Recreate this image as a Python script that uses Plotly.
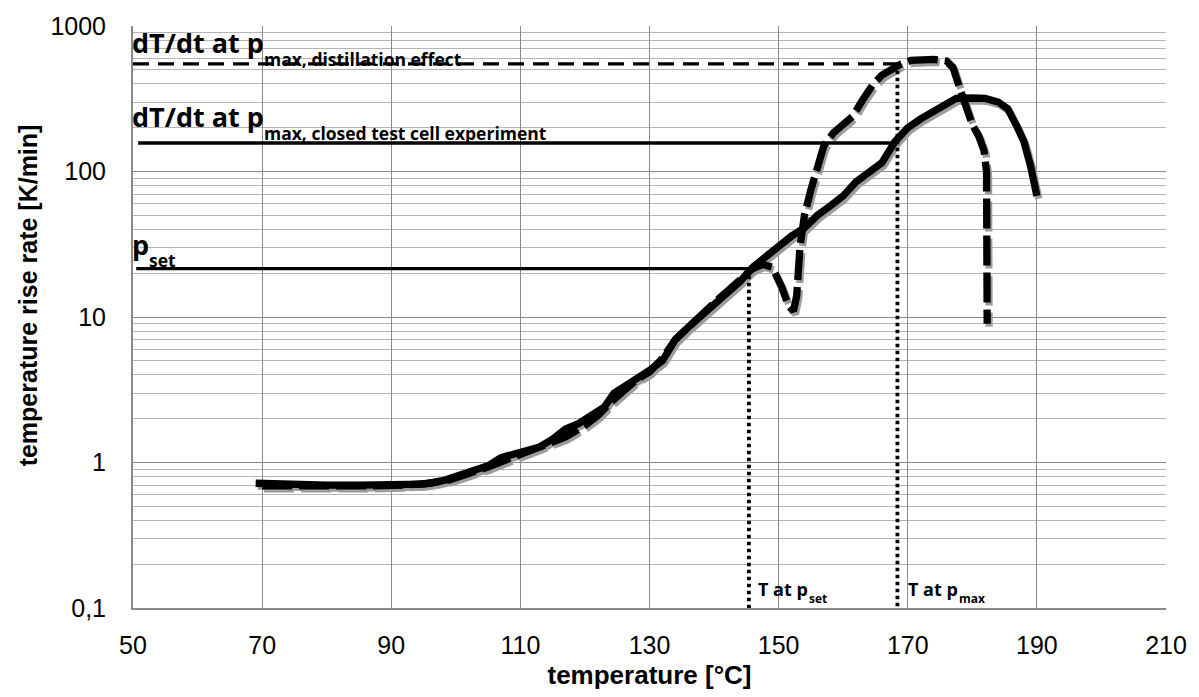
import numpy as np
import plotly.graph_objects as go

# ---------------- data ----------------
T_closed = [69, 72, 76, 80, 85, 90, 95, 98, 101, 103, 105, 107, 109, 111, 113, 115, 117, 119,
            121, 123, 124.5, 126, 128, 130, 132, 134, 136, 138, 140, 142, 144, 146, 148, 150,
            152, 154, 156, 158, 160, 162, 164, 166, 168, 170, 172, 174, 176, 177.5, 180, 182,
            184, 185.5, 187, 188, 189, 190]
rate_closed = [0.72, 0.71, 0.71, 0.70, 0.70, 0.70, 0.71, 0.75, 0.83, 0.88, 0.95, 1.08, 1.15,
               1.22, 1.28, 1.45, 1.70, 1.85, 2.1, 2.4, 3.0, 3.3, 3.8, 4.3, 5.0, 7.0, 8.5, 10.2,
               12.5, 14.5, 17.5, 22, 26, 30, 36, 41, 50, 58, 68, 85, 100, 115, 160, 200, 230,
               260, 285, 318, 320, 318, 300, 270, 200, 160, 110, 68]

T_dist = [70, 73, 77, 82, 87, 92, 96, 99, 102, 105, 108, 111, 114, 117, 120, 122, 124, 126,
          128, 130, 132, 134, 136, 138, 140, 142, 144, 146, 147.5, 149, 150.5, 151.5, 152.3,
          152.8, 153.3, 154, 155, 156, 157, 158.5, 160, 161.5, 163, 164.5, 166, 167.5, 169,
          170.5, 172, 174, 176, 177, 178, 179, 180, 181, 181.8, 182.2, 182.3, 182.3]
rate_dist = [0.69, 0.69, 0.68, 0.68, 0.69, 0.70, 0.72, 0.76, 0.83, 0.93, 1.05, 1.18, 1.3, 1.5,
             1.8, 2.1, 2.6, 3.1, 3.7, 4.2, 5.2, 7.0, 8.6, 10.3, 12.5, 15, 18, 21.5, 23, 22,
             16, 12, 11, 14, 30, 50, 75, 110, 150, 185, 210, 240, 310, 390, 460, 510, 550,
             580, 590, 590, 575, 520, 380, 270, 210, 175, 140, 100, 30, 9]

# characteristic points
T_pset = 145.4
rate_pset = 21.5
T_pmax = 168.4
rate_pmax_closed = 157
rate_pmax_dist = 550

x_tickvals = [50, 70, 90, 110, 130, 150, 170, 190, 210]
y_tickvals = [0.1, 1, 10, 100, 1000]
y_ticktext = ["0,1", "1", "10", "100", "1000"]

X_RANGE = [50, 210]
Y_RANGE_LOG = [-1, 3]

# ---------------- layout geometry ----------------
W, H = 1199, 697
ML, MR, MT, MB = 133, 27, 25, 83
PW, PH = W - ML - MR, H - MT - MB
# shadow offset (pixels -> axis units)
SDX = 2 * (X_RANGE[1] - X_RANGE[0]) / PW
SDY = 3 * (Y_RANGE_LOG[1] - Y_RANGE_LOG[0]) / PH

fig = go.Figure()

SHADOW = "#9c9c9c"
CURVE_W = 7.3
CURVE_DASH = "30px,7px"

# shadows (axis 2, shifted)
fig.add_trace(go.Scatter(x=T_closed, y=rate_closed, mode="lines", xaxis="x2", yaxis="y2",
                         line=dict(color=SHADOW, width=CURVE_W), hoverinfo="skip", showlegend=False))
fig.add_trace(go.Scatter(x=T_dist, y=rate_dist, mode="lines", xaxis="x2", yaxis="y2",
                         line=dict(color=SHADOW, width=CURVE_W, dash=CURVE_DASH),
                         hoverinfo="skip", showlegend=False))

# reference lines (axis 3)
REF_W = 3.3
fig.add_trace(go.Scatter(x=[X_RANGE[0], T_pmax], y=[rate_pmax_dist, rate_pmax_dist], mode="lines",
                         xaxis="x3", yaxis="y3", line=dict(color="black", width=REF_W, dash="16px,9px"),
                         showlegend=False))
fig.add_trace(go.Scatter(x=[X_RANGE[0] + 0.8, T_pmax], y=[rate_pmax_closed, rate_pmax_closed],
                         mode="lines", xaxis="x3", yaxis="y3",
                         line=dict(color="black", width=REF_W), showlegend=False))
fig.add_trace(go.Scatter(x=[X_RANGE[0] + 0.5, T_pset], y=[rate_pset, rate_pset], mode="lines",
                         xaxis="x3", yaxis="y3", line=dict(color="black", width=REF_W), showlegend=False))
fig.add_trace(go.Scatter(x=[T_pset, T_pset], y=[rate_pset, y_tickvals[0]], mode="lines",
                         xaxis="x3", yaxis="y3", line=dict(color="black", width=3.8, dash="3.5px,3.5px"),
                         showlegend=False))
fig.add_trace(go.Scatter(x=[T_pmax, T_pmax], y=[rate_pmax_dist, y_tickvals[0]], mode="lines",
                         xaxis="x3", yaxis="y3", line=dict(color="black", width=3.8, dash="3.5px,3.5px"),
                         showlegend=False))

# main curves (axis 3)
fig.add_trace(go.Scatter(x=T_closed, y=rate_closed, mode="lines", xaxis="x3", yaxis="y3",
                         name="closed test cell", line=dict(color="black", width=CURVE_W),
                         showlegend=False))
fig.add_trace(go.Scatter(x=T_dist, y=rate_dist, mode="lines", xaxis="x3", yaxis="y3",
                         name="distillation", line=dict(color="black", width=CURVE_W, dash=CURVE_DASH),
                         showlegend=False))

AX_FONT = "Liberation Sans, Arial, sans-serif"
TX_FONT = "Open Sans, sans-serif"

fig.update_layout(
    width=W, height=H,
    margin=dict(l=ML, r=MR, t=MT, b=MB),
    paper_bgcolor="white", plot_bgcolor="white",
    xaxis=dict(range=X_RANGE, tickvals=x_tickvals, showgrid=True, gridcolor="#8a8a8a",
               gridwidth=1.3, showline=True, linecolor="#8a8a8a", linewidth=2, ticks="",
               zeroline=False, tickfont=dict(family=AX_FONT, size=25, color="black"),
               ticklabelstandoff=14,
               title=dict(text="<b>temperature [°C]</b>", standoff=8,
                          font=dict(family=AX_FONT, size=26, color="black"))),
    yaxis=dict(type="log", range=Y_RANGE_LOG, tickvals=y_tickvals, ticktext=y_ticktext,
               showgrid=True, gridcolor="#8a8a8a", gridwidth=1.3, showline=True,
               linecolor="#8a8a8a", linewidth=2, ticks="", zeroline=False,
               tickfont=dict(family=AX_FONT, size=25, color="black"), ticklabelstandoff=20,
               minor=dict(showgrid=True, dtick="D1", gridcolor="#b4b4b4", gridwidth=1)),
    xaxis2=dict(overlaying="x", range=[X_RANGE[0] - SDX, X_RANGE[1] - SDX], visible=False),
    yaxis2=dict(overlaying="y", type="log", range=[Y_RANGE_LOG[0] + SDY, Y_RANGE_LOG[1] + SDY],
                visible=False),
    xaxis3=dict(overlaying="x", range=X_RANGE, visible=False),
    yaxis3=dict(overlaying="y", type="log", range=Y_RANGE_LOG, visible=False),
)

# y axis title (placed as in the reference, slightly above the plot centre)
fig.add_annotation(text="<b>temperature rise rate [K/min]</b>", textangle=-90,
                   xref="paper", yref="paper", x=(27 - ML) / PW, y=(H - MB - 298) / PH,
                   xanchor="center", yanchor="middle", showarrow=False,
                   font=dict(family=AX_FONT, size=25, color="black"))

ann_font_big = dict(family=TX_FONT, size=27, color="black", weight="bold")
ann_font_sub = dict(family=TX_FONT, size=17.5, color="black", weight="bold")
ann_font_mid = dict(family=TX_FONT, size=18, color="black", weight="bold")
ann_font_small = dict(family=TX_FONT, size=12, color="black", weight="bold")

def txt(x, y, text, font, xshift=0, yshift=0):
    fig.add_annotation(x=x, y=np.log10(y), xref="x", yref="y", text=text, showarrow=False,
                       xanchor="left", yanchor="bottom", font=font, xshift=xshift,
                       yshift=yshift, borderpad=0)

txt(X_RANGE[0], rate_pmax_dist, "dT/dt at p", ann_font_big, xshift=-2, yshift=2)
txt(X_RANGE[0], rate_pmax_dist, "max, distillation effect", ann_font_sub, xshift=130, yshift=-8)
txt(X_RANGE[0], rate_pmax_closed, "dT/dt at p", ann_font_big, xshift=-2, yshift=7)
txt(X_RANGE[0], rate_pmax_closed, "max, closed test cell experiment", ann_font_sub, xshift=130, yshift=-3)
txt(X_RANGE[0], rate_pset, "p", ann_font_big, xshift=-2, yshift=5)
txt(X_RANGE[0], rate_pset, "set", ann_font_sub, xshift=15, yshift=-4)
txt(T_pset, y_tickvals[0], "T at p", ann_font_mid, xshift=8, yshift=6)
txt(T_pset, y_tickvals[0], "set", ann_font_small, xshift=59, yshift=0)
txt(T_pmax, y_tickvals[0], "T at p", ann_font_mid, xshift=10, yshift=6)
txt(T_pmax, y_tickvals[0], "max", ann_font_small, xshift=61, yshift=0)

fig.write_html("out.html")
